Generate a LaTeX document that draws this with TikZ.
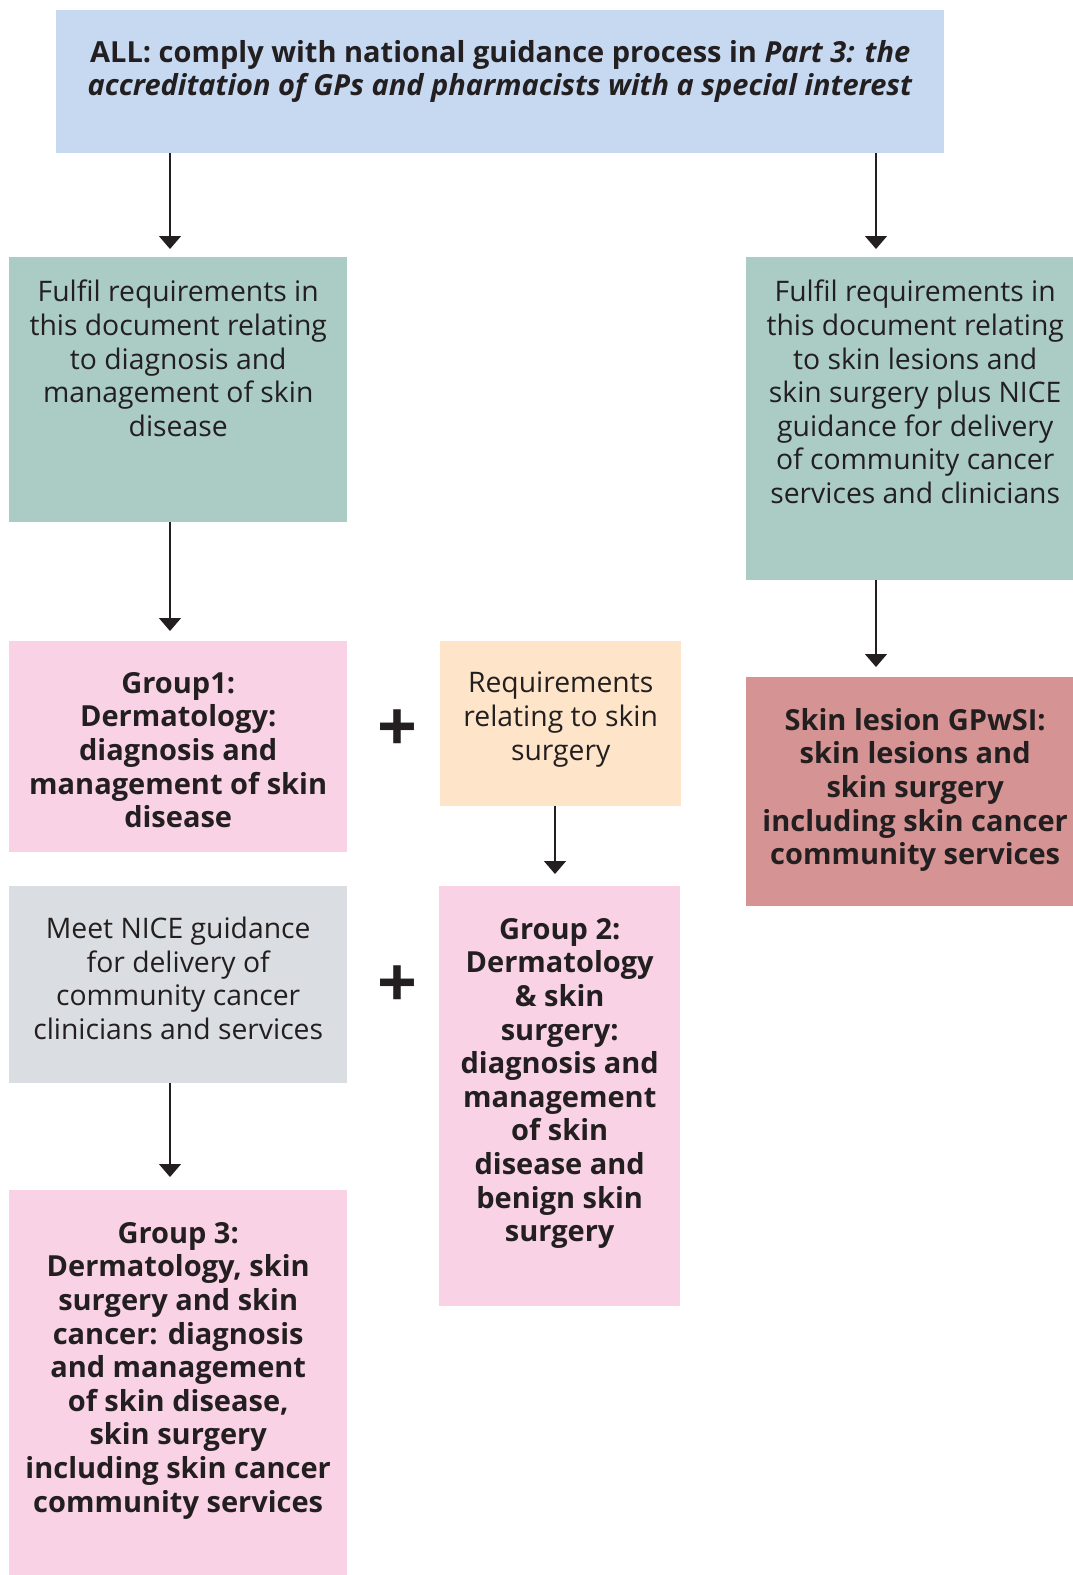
\documentclass[tikz,border=0pt]{standalone}
\usepackage{fontspec}
\setmainfont{Open Sans}
\usetikzlibrary{arrows.meta,positioning}

\definecolor{inkdark}{HTML}{231F20}
\definecolor{allblue}{HTML}{C6D9F1}
\definecolor{reqgreen}{HTML}{AACCC5}
\definecolor{grouppink}{HTML}{F9D3E5}
\definecolor{surgpeach}{HTML}{FEE5C9}
\definecolor{lesionred}{HTML}{D69393}
\definecolor{nicegrey}{HTML}{DADDE2}

% box text: width, height, top pad, text
\newcommand{\boxtext}[4]{\parbox[c][#2][t]{#1}{\centering\vspace*{#3}#4}}
\newcommand{\boldtext}{\fontsize{29}{33.6}\selectfont\bfseries}
\newcommand{\rightshift}{\leftskip=11pt plus 1fil}

\tikzset{
  box/.style={anchor=north west, inner sep=0pt, text=inkdark,
    font=\fontsize{28.3}{33.6}\selectfont},
  arr/.style={-{Triangle[width=22pt,length=13pt]}, line width=1.4pt, draw=inkdark, shorten >=10pt},
  plus/.style={text=inkdark, inner sep=0pt, font=\fontsize{70}{70}\selectfont\bfseries}
}

\begin{document}
\begin{tikzpicture}[x=1pt,y=-1pt]

\useasboundingbox (0,0) rectangle (1073,1575);

% top
\node[box, fill=allblue] (all) at (56,10) {\boxtext{888pt}{143pt}{30pt}{\boldtext ALL: comply with national guidance process in \textit{Part 3: the}\\ \textit{accreditation of GPs and pharmacists with a special interest}}};

% requirements
\node[box, fill=reqgreen] (fulfilL) at (9,257) {\boxtext{338pt}{265pt}{23pt}{Fulfil requirements in\\this document relating\\to diagnosis and\\management of skin\\disease}};
\node[box, fill=reqgreen] (fulfilR) at (746,257) {\boxtext{327pt}{323pt}{23pt}{\rightshift Fulfil requirements in\\this document relating\\to skin lesions and\\skin surgery plus NICE\\guidance for delivery\\of community cancer\\services and clinicians}};

% groups
\node[box, fill=grouppink] (group1) at (9,641) {\boxtext{338pt}{211pt}{31pt}{\boldtext Group1:\\Dermatology:\\diagnosis and\\management of skin\\disease}};
\node[box, fill=surgpeach] (surgery) at (440,641) {\boxtext{241pt}{165pt}{31pt}{Requirements\\relating to skin\\surgery}};
\node[box, fill=lesionred] (lesion) at (746,677) {\boxtext{327pt}{229pt}{31pt}{\boldtext\rightshift Skin lesion GPwSI:\\skin lesions and\\skin surgery\\including skin cancer\\community services}};
\node[box, fill=nicegrey] (nice) at (9,886) {\boxtext{338pt}{197pt}{31pt}{Meet NICE guidance\\for delivery of\\community cancer\\clinicians and services}};
\node[box, fill=grouppink] (group2) at (439,886) {\boxtext{241pt}{420pt}{32pt}{\boldtext Group 2:\\Dermatology\\\& skin\\surgery:\\diagnosis and\\management\\of skin\\disease and\\benign skin\\surgery}};
\node[box, fill=grouppink] (group3) at (9,1190) {\boxtext{338pt}{385pt}{32pt}{\boldtext Group 3:\\Dermatology, skin\\surgery and skin\\cancer: diagnosis\\and management\\of skin disease,\\skin surgery\\including skin cancer\\community services}};

\node[plus] (plus1) at (397,731) {+};
\node[plus] (plus2) at (397,987) {+};

% arrows
\coordinate (colL) at (170,0);
\coordinate (colR) at (876,0);
\coordinate (colM) at (555,0);
\draw[arr, shorten >=8pt] (all.south -| colL) -- (fulfilL.north -| colL);
\draw[arr, shorten >=8pt] (all.south -| colR) -- (fulfilR.north -| colR);
\draw[arr] (fulfilL.south -| colL) -- (group1.north -| colL);
\draw[arr] (fulfilR.south -| colR) -- (lesion.north -| colR);
\draw[arr, shorten >=12pt] (surgery.south -| colM) -- (group2.north -| colM);
\draw[arr, shorten >=13pt] (nice.south -| colL) -- (group3.north -| colL);

\end{tikzpicture}
\end{document}
